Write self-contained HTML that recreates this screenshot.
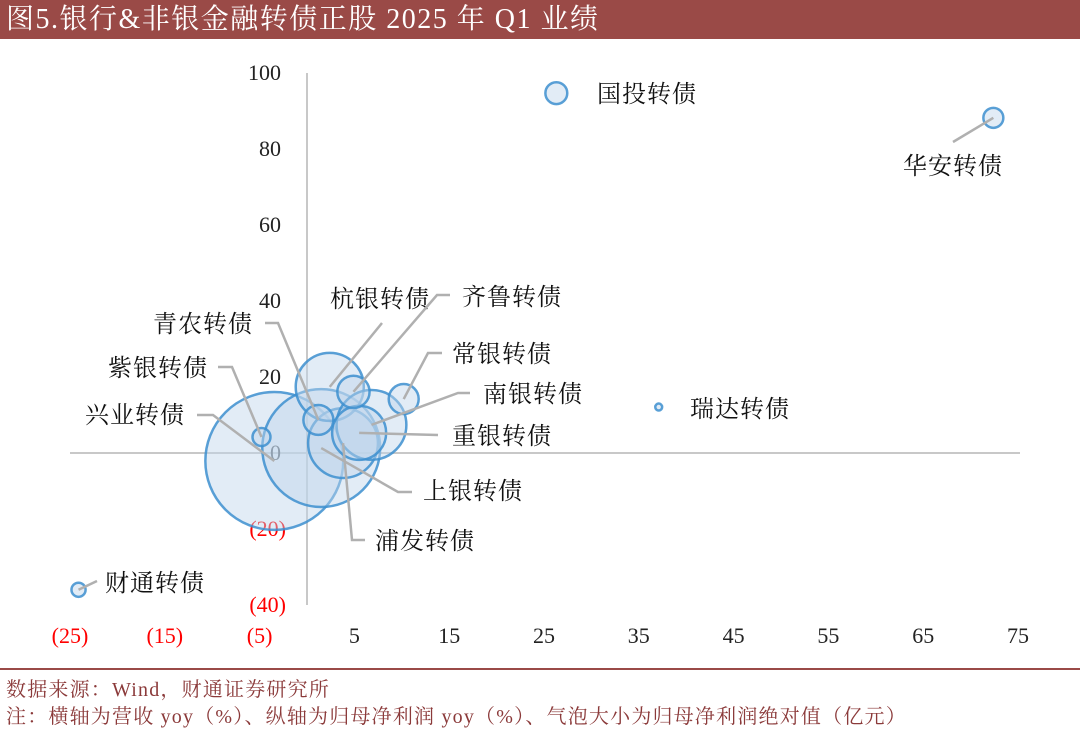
<!DOCTYPE html>
<html><head><meta charset="utf-8">
<style>
body{margin:0;width:1080px;height:727px;background:#fff;overflow:hidden;position:relative;font-family:"Liberation Serif","Noto Serif CJK SC",serif;}
#title{position:absolute;left:0;top:0;width:1080px;height:39px;background:#9a4a47;color:#fff;font-size:28px;letter-spacing:1.5px;line-height:39px;padding-left:6px;box-sizing:border-box;white-space:nowrap;}
.foot{position:absolute;left:6px;font-size:20px;letter-spacing:1.2px;color:#8b3a3a;white-space:nowrap;}
#sep{position:absolute;left:0;top:668px;width:1080px;height:2px;background:#9a4a47;}
</style></head><body>
<div id="title">图5.银行&amp;非银金融转债正股 2025 年 Q1 业绩</div>
<svg id="chart" width="1080" height="727" style="position:absolute;left:0;top:0"></svg>
<div id="sep"></div>
<div class="foot" style="top:673px">数据来源：Wind，财通证券研究所</div>
<div class="foot" style="top:700px">注：横轴为营收 yoy（%）、纵轴为归母净利润 yoy（%）、气泡大小为归母净利润绝对值（亿元）</div>
<script>
const names=["兴业转债","上银转债","浦发转债","杭银转债","南银转债","重银转债","青农转债","齐鲁转债","常银转债","紫银转债","国投转债","华安转债","瑞达转债","财通转债"];
const xVals=[-3.45,1.5,3.8,2.4,6.8,5.5,1.2,4.9,10.2,-4.8,26.3,72.4,37.1,-24.1];
const yVals=[-2.1,1.3,2.6,17.4,7.4,5.3,8.7,16.1,14.2,4.2,94.7,88.2,12.1,-36];
const sizes=[476,348,122,116,122,73,22.5,26,22.5,8.1,12,10,1.2,5];
const xTicks=[-25,-15,-5,5,15,25,35,45,55,65,75];
const yTicks=[100,80,60,40,20,0,-20,-40];
const labels=[
 [85,414,[[197,415],[213,415]]],
 [423,490,[[412,492],[398,492]]],
 [375,540,[[365,540],[352,540]]],
 [330,298,[[382,323]]],
 [483,393,[[470,393],[458,393]]],
 [452,435,[[438,435]]],
 [153,323,[[265,323],[278,323]]],
 [462,296,[[450,295],[437,295]]],
 [452,353,[[442,353],[428,353]]],
 [108,367,[[218,367],[232,367]]],
 [597,93,null],
 [903,165,[[953,142]]],
 [690,408,null],
 [105,582,[[97,581]]]
];
const X0=70,X1=1018,Y0=453,YS=3.8;
const sx=v=>X0+(v+25)*(X1-X0)/100;
const sy=v=>Y0-v*YS;
const sr=v=>Math.sqrt(v)*3.16;
const svg=document.getElementById('chart');
const NS='http://www.w3.org/2000/svg';
function mk(t,a){const e=document.createElementNS(NS,t);for(const k in a)e.setAttribute(k,a[k]);svg.appendChild(e);return e;}
let e;
e=mk('line',{x1:70,y1:453,x2:1020,y2:453,stroke:'#c8c8c8','stroke-width':2});


e=mk('line',{x1:sx(0),y1:73,x2:sx(0),y2:605,stroke:'#c8c8c8','stroke-width':2});


const fmt=v=>v<0?'('+(-v)+')':String(v);
xTicks.forEach(v=>{
 const t=mk('text',{x:sx(v),y:643,'text-anchor':'middle','font-size':22,fill:v<0?'#ff0000':'#222'});
 t.textContent=fmt(v);
 
 
});
yTicks.forEach(v=>{
 const t=mk('text',{x:v<0?286:281,y:sy(v)+7,'text-anchor':'end','font-size':22,fill:v<0?'#ff0000':'#222'});
 t.textContent=fmt(v);
 
 
});
names.forEach((n,i)=>{
 const c=mk('circle',{cx:sx(xVals[i]),cy:sy(yVals[i]),r:sr(sizes[i]),fill:'rgba(190,213,236,0.45)',stroke:'#3d8fcf','stroke-width':2.5,'stroke-opacity':0.85});
 
 
});
names.forEach((n,i)=>{
 const L=labels[i];
 if(L[2]){
  const pts=[[sx(xVals[i]),sy(yVals[i])]].concat(L[2].slice().reverse());
  const p=mk('polyline',{points:pts.map(q=>q.join(',')).join(' '),fill:'none',stroke:'#b0b0b0','stroke-width':2.5});
  
  
 }
 const t=mk('text',{x:L[0],y:L[1]+9,'font-size':24,'letter-spacing':1,fill:'#111','font-family':'"Liberation Serif","Noto Serif CJK SC",serif'});
 t.textContent=n;
 
 
});
</script>
</body></html>
